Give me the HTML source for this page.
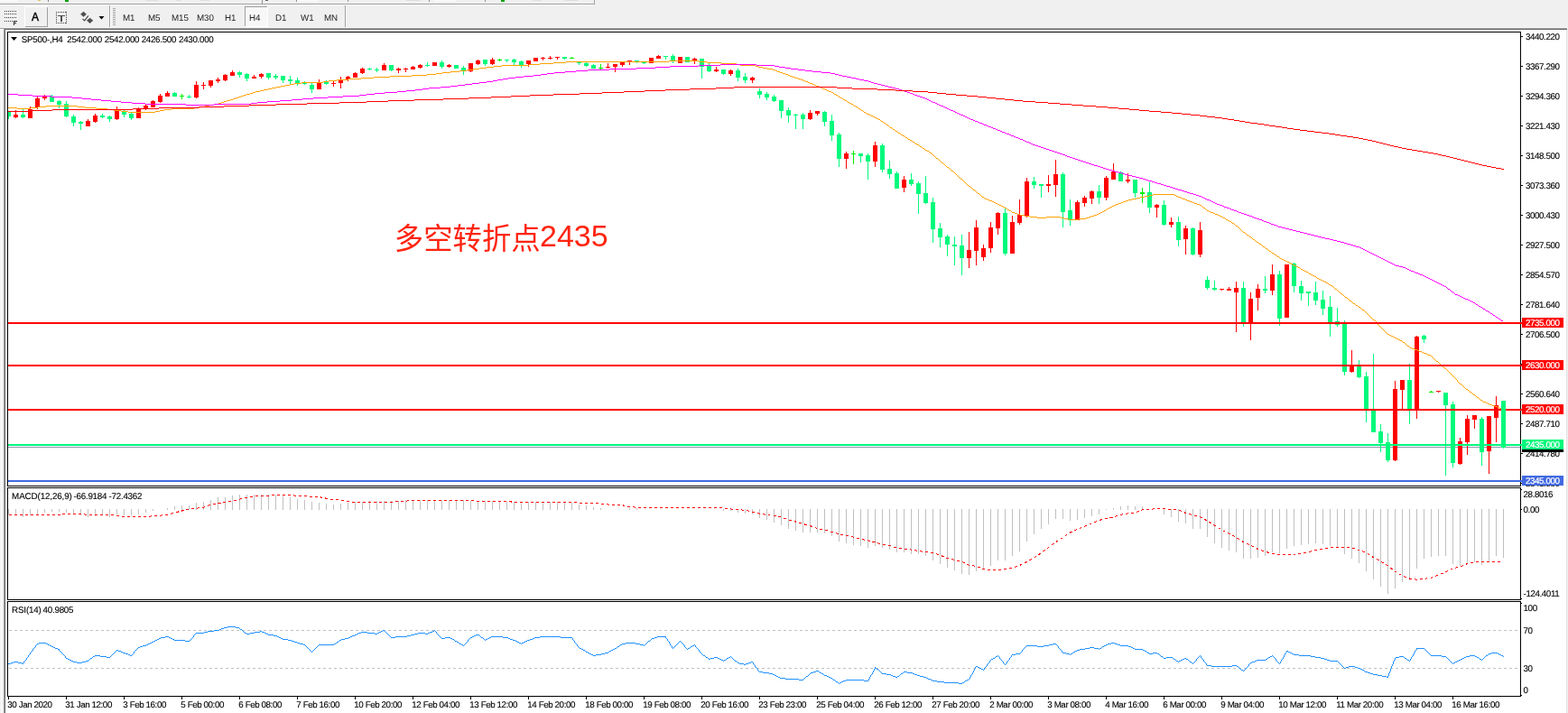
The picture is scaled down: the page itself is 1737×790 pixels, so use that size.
<!DOCTYPE html><html><head><meta charset="utf-8"><title>chart</title><style>
html,body{margin:0;padding:0}
body{width:1737px;height:790px;background:#f0f0f0;position:relative;overflow:hidden;font-family:"Liberation Sans",sans-serif;}
.a{position:absolute}
.t{position:absolute;font-size:9.8px;line-height:11px;color:#000;white-space:pre;letter-spacing:-0.42px;text-rendering:geometricPrecision;-webkit-text-stroke:0.12px #000}
.tb{position:absolute;font-size:9.8px;line-height:11px;color:#262626;white-space:pre;top:15px;text-rendering:geometricPrecision;letter-spacing:-0.1px;will-change:transform}
.pl{position:absolute;left:1686px;width:46px;height:11px;color:#fff}
.pl span{position:absolute;left:4px;top:1px;font-size:9.8px;line-height:11px;white-space:pre;letter-spacing:-0.42px;text-rendering:geometricPrecision;-webkit-text-stroke:0.2px #fff}

</style></head><body>
<div class="a" style="left:0;top:0;width:20px;height:2px;background:#fafafa"></div>
<div class="a" style="left:42px;top:0;width:3px;height:1px;background:#e8c060"></div>
<div class="a" style="left:53px;top:0;width:1px;height:2px;background:#808080"></div>
<div class="a" style="left:72px;top:0;width:4px;height:2px;background:#00a000"></div>
<div class="a" style="left:555px;top:0;width:4px;height:2px;background:#00a000"></div>
<div class="a" style="left:290px;top:0;width:1px;height:4px;background:#909090"></div><div class="a" style="left:294px;top:0;width:3px;height:1px;background:#606060"></div>
<div class="a" style="left:385px;top:0;width:1px;height:2px;background:#909090"></div><div class="a" style="left:328px;top:0;width:1px;height:2px;background:#909090"></div>
<div class="a" style="left:475px;top:0;width:1px;height:2px;background:#909090"></div>
<div class="a" style="left:537px;top:0;width:1px;height:2px;background:#909090"></div>
<div class="a" style="left:329px;top:0;width:24px;height:2px;background:#f9f9f9"></div>
<div class="a" style="left:480px;top:0;width:26px;height:2px;background:#f9f9f9"></div>
<div class="a" style="left:161px;top:0;width:14px;height:1px;background:#dedede"></div><div class="a" style="left:195px;top:0;width:6px;height:1px;background:#dedede"></div><div class="a" style="left:222px;top:0;width:10px;height:1px;background:#dedede"></div><div class="a" style="left:450px;top:0;width:16px;height:1px;background:#dedede"></div><div class="a" style="left:590px;top:0;width:10px;height:1px;background:#dedede"></div><div class="a" style="left:625px;top:0;width:15px;height:1px;background:#dedede"></div>
<div class="a" style="left:0;top:4px;width:659px;height:1px;background:#a0a0a0"></div>
<div class="a" style="left:658px;top:0;width:1px;height:5px;background:#a0a0a0"></div>
<div class="a" style="left:0;top:5px;width:658px;height:1px;background:#fff"></div>
<svg class="a" style="left:0;top:0" width="400" height="33" shape-rendering="crispEdges">
<path d="M5 12h1v1h-1zM7 12h1v1h-1zM9 12h1v1h-1zM11 12h1v1h-1zM13 12h1v1h-1zM15 12h1v1h-1zM17 12h1v1h-1zM5 15h1v1h-1zM7 15h1v1h-1zM9 15h1v1h-1zM11 15h1v1h-1zM13 15h1v1h-1zM15 15h1v1h-1zM17 15h1v1h-1zM5 19h1v1h-1zM7 19h1v1h-1zM9 19h1v1h-1zM11 19h1v1h-1zM13 19h1v1h-1zM15 19h1v1h-1zM17 19h1v1h-1zM5 23h1v1h-1zM7 23h1v1h-1zM9 23h1v1h-1zM11 23h1v1h-1zM13 23h1v1h-1z" fill="#404040"/>
<path d="M15 23h4v1h-3v1h2v1h-2v2h-1z" fill="#303030"/>
<path d="M27 7h26v1h-25v22h-1z" fill="#fff"/>
<path d="M52 8h1v22h-25v-1h24z" fill="#a0a0a0"/>
<path d="M62 13h1v1h-1zM62 25h1v1h-1zM64 13h1v1h-1zM64 25h1v1h-1zM66 13h1v1h-1zM66 25h1v1h-1zM68 13h1v1h-1zM68 25h1v1h-1zM70 13h1v1h-1zM70 25h1v1h-1zM72 13h1v1h-1zM72 25h1v1h-1zM62 13h1v1h-1zM73 13h1v1h-1zM62 15h1v1h-1zM73 15h1v1h-1zM62 17h1v1h-1zM73 17h1v1h-1zM62 19h1v1h-1zM73 19h1v1h-1zM62 21h1v1h-1zM73 21h1v1h-1zM62 23h1v1h-1zM73 23h1v1h-1zM62 25h1v1h-1zM73 25h1v1h-1z" fill="#404040"/>
<path d="M64 17h8v1h-3v6h-2v-6h-3z" fill="#505050"/>
<path d="M121 6h1v25h-1z" fill="#a0a0a0"/><path d="M122 6h1v25h-1z" fill="#fff"/>
<path d="M125 9h3v1h-3zM125 11h3v1h-3zM125 13h3v1h-3zM125 15h3v1h-3zM125 17h3v1h-3zM125 19h3v1h-3zM125 21h3v1h-3zM125 23h3v1h-3zM125 25h3v1h-3zM125 27h3v1h-3z" fill="#a8a8a8"/>
<path d="M271 7h25v1h-24v21h-1z" fill="#a0a0a0"/><path d="M296 7h1v23h-26v-1h25z" fill="#fff"/>
<path d="M382 6h1v25h-1z" fill="#a0a0a0"/><path d="M383 6h1v25h-1z" fill="#fff"/>
</svg>
<div class="a" style="left:272px;top:8px;width:24px;height:21px;background:repeating-conic-gradient(#ffffff 0 25%,#f0f0f0 0 50%) 0 0/2px 2px"></div>
<svg class="a" style="left:0;top:0" width="130" height="33">
<path d="M92.5 12.8l3.4 3-3.4 3-3.4-3z M99.6 19.8l3.6 3-3.6 3.2-3.6-3.2z" fill="#505050"/>
<path d="M91.5 21l2.2 1.8 4.2-5.4" fill="none" stroke="#505050" stroke-width="1.3"/>
<path d="M109.5 18h6l-3 3.5z" fill="#000"/>
</svg>
<div class="a" style="left:35px;top:12px;font-size:12px;line-height:14px;color:#000;-webkit-text-stroke:0.45px #000;will-change:transform">A</div>
<div class="tb" style="left:136px">M1</div>
<div class="tb" style="left:164px">M5</div>
<div class="tb" style="left:190px">M15</div>
<div class="tb" style="left:218px">M30</div>
<div class="tb" style="left:249px">H1</div>
<div class="tb" style="left:276px">H4</div>
<div class="tb" style="left:305px">D1</div>
<div class="tb" style="left:333px">W1</div>
<div class="tb" style="left:359px">MN</div>
<div class="a" style="left:0;top:30px;width:1737px;height:1px;background:#f5f5f5"></div>
<div class="a" style="left:0;top:31px;width:1736px;height:1px;background:#a0a0a0"></div>
<div class="a" style="left:4px;top:32px;width:1732px;height:1px;background:#696969"></div>
<div class="a" style="left:0;top:32px;width:4px;height:1px;background:#fff"></div>
<div class="a" style="left:1px;top:33px;width:1px;height:757px;background:#fff"></div>
<div class="a" style="left:4px;top:32px;width:1px;height:758px;background:#a0a0a0"></div>
<div class="a" style="left:5px;top:32px;width:1px;height:758px;background:#696969"></div>
<div class="a" style="left:6px;top:33px;width:1729px;height:757px;background:#fff"></div>
<div class="a" style="left:1735px;top:33px;width:1px;height:757px;background:#e3e3e3"></div>
<svg class="a" style="left:0;top:0" width="1737" height="790" shape-rendering="crispEdges">
<path d="M9 564h1v6h-1zM17 564h1v6h-1zM25 564h1v9h-1zM33 564h1v7h-1zM41 564h1v7h-1zM49 564h1v4h-1zM57 564h1v3h-1zM65 564h1v3h-1zM73 564h1v4h-1zM81 564h1v5h-1zM89 564h1v7h-1zM97 564h1v9h-1zM105 564h1v8h-1zM113 564h1v7h-1zM121 564h1v9h-1zM129 564h1v6h-1zM137 564h1v7h-1zM145 564h1v7h-1zM153 564h1v6h-1zM161 564h1v4h-1zM169 564h1v2h-1zM185 563h1v2h-1zM193 561h1v4h-1zM201 560h1v5h-1zM209 560h1v5h-1zM217 557h1v8h-1zM225 556h1v9h-1zM233 554h1v11h-1zM241 551h1v14h-1zM249 551h1v14h-1zM257 549h1v16h-1zM265 548h1v17h-1zM273 548h1v17h-1zM281 548h1v17h-1zM289 548h1v17h-1zM297 548h1v17h-1zM305 548h1v17h-1zM313 549h1v16h-1zM321 551h1v14h-1zM329 553h1v12h-1zM337 554h1v11h-1zM345 556h1v9h-1zM353 557h1v8h-1zM361 558h1v7h-1zM369 559h1v6h-1zM377 558h1v7h-1zM385 557h1v8h-1zM393 556h1v9h-1zM401 556h1v9h-1zM409 555h1v10h-1zM417 555h1v10h-1zM425 555h1v10h-1zM433 555h1v10h-1zM441 555h1v10h-1zM449 554h1v11h-1zM457 554h1v11h-1zM465 554h1v11h-1zM473 554h1v11h-1zM481 554h1v11h-1zM489 554h1v11h-1zM497 554h1v11h-1zM505 554h1v11h-1zM513 554h1v11h-1zM521 555h1v10h-1zM529 555h1v10h-1zM537 555h1v10h-1zM545 555h1v10h-1zM553 556h1v9h-1zM561 556h1v9h-1zM569 556h1v9h-1zM577 556h1v9h-1zM585 556h1v9h-1zM593 556h1v9h-1zM601 556h1v9h-1zM609 556h1v9h-1zM617 556h1v9h-1zM625 556h1v9h-1zM633 557h1v8h-1zM641 559h1v6h-1zM649 560h1v5h-1zM657 562h1v3h-1zM665 563h1v2h-1zM697 563h1v2h-1zM705 563h1v2h-1zM801 564h1v2h-1zM809 564h1v2h-1zM817 564h1v4h-1zM825 564h1v5h-1zM833 564h1v6h-1zM841 564h1v10h-1zM849 564h1v12h-1zM857 564h1v15h-1zM865 564h1v18h-1zM873 564h1v22h-1zM881 564h1v24h-1zM889 564h1v26h-1zM897 564h1v26h-1zM905 564h1v26h-1zM913 564h1v27h-1zM921 564h1v30h-1zM929 564h1v36h-1zM937 564h1v38h-1zM945 564h1v40h-1zM953 564h1v41h-1zM961 564h1v43h-1zM969 564h1v41h-1zM977 564h1v43h-1zM985 564h1v45h-1zM993 564h1v48h-1zM1001 564h1v48h-1zM1009 564h1v50h-1zM1017 564h1v50h-1zM1025 564h1v52h-1zM1033 564h1v57h-1zM1041 564h1v61h-1zM1049 564h1v65h-1zM1057 564h1v68h-1zM1065 564h1v72h-1zM1073 564h1v73h-1zM1081 564h1v69h-1zM1089 564h1v66h-1zM1097 564h1v63h-1zM1105 564h1v57h-1zM1113 564h1v57h-1zM1121 564h1v52h-1zM1129 564h1v47h-1zM1137 564h1v36h-1zM1145 564h1v28h-1zM1153 564h1v22h-1zM1161 564h1v17h-1zM1169 564h1v11h-1zM1177 564h1v11h-1zM1185 564h1v13h-1zM1193 564h1v12h-1zM1201 564h1v10h-1zM1209 564h1v8h-1zM1217 564h1v6h-1zM1225 564h1v1h-1zM1233 563h1v2h-1zM1241 561h1v4h-1zM1249 560h1v5h-1zM1257 561h1v4h-1zM1265 561h1v4h-1zM1289 564h1v6h-1zM1297 564h1v9h-1zM1305 564h1v14h-1zM1313 564h1v16h-1zM1321 564h1v22h-1zM1329 564h1v22h-1zM1337 564h1v31h-1zM1345 564h1v38h-1zM1353 564h1v43h-1zM1361 564h1v46h-1zM1369 564h1v48h-1zM1377 564h1v55h-1zM1385 564h1v55h-1zM1393 564h1v54h-1zM1401 564h1v52h-1zM1409 564h1v48h-1zM1417 564h1v49h-1zM1425 564h1v44h-1zM1433 564h1v41h-1zM1441 564h1v40h-1zM1449 564h1v39h-1zM1457 564h1v38h-1zM1465 564h1v39h-1zM1473 564h1v41h-1zM1481 564h1v42h-1zM1489 564h1v50h-1zM1497 564h1v55h-1zM1505 564h1v60h-1zM1513 564h1v69h-1zM1521 564h1v78h-1zM1529 564h1v86h-1zM1537 564h1v94h-1zM1545 564h1v88h-1zM1553 564h1v81h-1zM1561 564h1v79h-1zM1569 564h1v66h-1zM1577 564h1v55h-1zM1585 564h1v53h-1zM1593 564h1v52h-1zM1601 564h1v52h-1zM1609 564h1v61h-1zM1617 564h1v63h-1zM1625 564h1v61h-1zM1633 564h1v59h-1zM1641 564h1v62h-1zM1649 564h1v59h-1zM1657 564h1v52h-1zM1665 564h1v54h-1z" fill="#c0c0c0"/>
<path d="M9 495h1675v1h-1675z" fill="#9097ac"/>
<path d="M9 124h1v8h-1zM25 121h1v10h-1zM57 105h1v8h-1zM65 111h1v9h-1zM73 112h1v18h-1zM81 127h1v13h-1zM89 134h1v10h-1zM113 126h1v5h-1zM121 128h1v7h-1zM137 122h1v8h-1zM145 125h1v8h-1zM193 102h1v5h-1zM209 105h1v4h-1zM265 79h1v7h-1zM273 81h1v9h-1zM297 81h1v7h-1zM305 82h1v6h-1zM313 84h1v8h-1zM321 84h1v10h-1zM329 86h1v9h-1zM337 90h1v4h-1zM345 92h1v11h-1zM361 89h1v5h-1zM409 75h1v3h-1zM417 75h1v5h-1zM433 72h1v7h-1zM473 69h1v5h-1zM489 67h1v9h-1zM505 72h1v4h-1zM513 73h1v10h-1zM537 66h1v7h-1zM561 66h1v3h-1zM569 65h1v7h-1zM577 67h1v8h-1zM625 63h1v3h-1zM641 69h1v3h-1zM649 69h1v5h-1zM657 71h1v5h-1zM705 67h1v3h-1zM713 68h1v3h-1zM737 62h1v4h-1zM745 60h1v10h-1zM761 63h1v6h-1zM777 65h1v22h-1zM785 70h1v10h-1zM801 77h1v6h-1zM817 76h1v14h-1zM825 81h1v11h-1zM841 98h1v11h-1zM849 102h1v9h-1zM857 105h1v8h-1zM865 111h1v20h-1zM873 119h1v17h-1zM881 126h1v17h-1zM889 125h1v18h-1zM913 123h1v17h-1zM921 127h1v29h-1zM929 147h1v38h-1zM953 170h1v10h-1zM961 170h1v29h-1zM977 159h1v32h-1zM985 178h1v20h-1zM993 190h1v19h-1zM1009 192h1v14h-1zM1017 201h1v36h-1zM1025 195h1v31h-1zM1033 219h1v50h-1zM1041 247h1v27h-1zM1049 260h1v24h-1zM1057 262h1v32h-1zM1065 260h1v45h-1zM1113 230h1v53h-1zM1145 196h1v13h-1zM1153 204h1v15h-1zM1177 191h1v61h-1zM1185 221h1v29h-1zM1217 205h1v21h-1zM1241 190h1v11h-1zM1257 199h1v20h-1zM1273 202h1v34h-1zM1289 222h1v28h-1zM1305 240h1v33h-1zM1321 252h1v31h-1zM1337 306h1v15h-1zM1345 311h1v11h-1zM1377 312h1v50h-1zM1401 306h1v19h-1zM1417 300h1v61h-1zM1433 291h1v33h-1zM1441 311h1v22h-1zM1449 323h1v16h-1zM1457 312h1v26h-1zM1465 322h1v27h-1zM1473 328h1v45h-1zM1481 341h1v21h-1zM1489 355h1v61h-1zM1505 399h1v20h-1zM1513 412h1v56h-1zM1521 392h1v87h-1zM1529 470h1v31h-1zM1537 480h1v32h-1zM1561 403h1v67h-1zM1577 371h1v9h-1zM1601 435h1v92h-1zM1609 445h1v73h-1zM1641 462h1v54h-1zM1665 444h1v53h-1zM9 124h3v5h-3zM23 127h5v3h-5zM55 107h5v6h-5zM63 112h5v4h-5zM71 115h5v14h-5zM79 129h5v7h-5zM87 135h5v2h-5zM111 128h5v2h-5zM119 129h5v3h-5zM135 124h5v3h-5zM143 126h5v5h-5zM191 103h5v4h-5zM207 107h5v1h-5zM263 80h5v3h-5zM271 82h5v5h-5zM295 81h5v5h-5zM303 84h5v2h-5zM311 84h5v5h-5zM319 88h5v2h-5zM327 89h5v3h-5zM335 91h5v2h-5zM343 94h5v5h-5zM359 91h5v2h-5zM407 76h5v1h-5zM415 77h5v1h-5zM431 72h5v6h-5zM471 72h5v1h-5zM487 69h5v5h-5zM503 72h5v4h-5zM511 75h5v3h-5zM535 66h5v5h-5zM559 66h5v1h-5zM567 66h5v3h-5zM575 68h5v4h-5zM623 63h5v2h-5zM639 69h5v1h-5zM647 70h5v3h-5zM655 72h5v4h-5zM703 67h5v1h-5zM711 69h5v1h-5zM735 62h5v1h-5zM743 62h5v6h-5zM759 63h5v6h-5zM775 65h5v9h-5zM783 72h5v7h-5zM799 77h5v5h-5zM815 78h5v8h-5zM823 85h5v4h-5zM839 101h5v4h-5zM847 104h5v4h-5zM855 107h5v5h-5zM863 111h5v12h-5zM871 122h5v6h-5zM879 127h5v1h-5zM887 127h5v5h-5zM911 124h5v11h-5zM919 134h5v16h-5zM927 149h5v27h-5zM951 170h5v3h-5zM959 172h5v7h-5zM975 161h5v27h-5zM983 187h5v6h-5zM991 192h5v17h-5zM1007 199h5v5h-5zM1015 203h5v12h-5zM1023 214h5v11h-5zM1031 224h5v30h-5zM1039 253h5v10h-5zM1047 262h5v9h-5zM1055 271h5v2h-5zM1063 272h5v14h-5zM1111 236h5v45h-5zM1143 201h5v4h-5zM1151 204h5v2h-5zM1175 193h5v42h-5zM1183 233h5v11h-5zM1215 212h5v7h-5zM1239 191h5v10h-5zM1255 199h5v15h-5zM1271 213h5v17h-5zM1287 227h5v22h-5zM1303 246h5v20h-5zM1319 253h5v29h-5zM1335 310h5v9h-5zM1343 319h5v2h-5zM1375 319h5v38h-5zM1399 320h5v2h-5zM1415 304h5v49h-5zM1431 292h5v25h-5zM1439 317h5v8h-5zM1447 323h5v2h-5zM1455 324h5v9h-5zM1463 332h5v10h-5zM1471 340h5v17h-5zM1479 356h5v4h-5zM1487 359h5v53h-5zM1503 406h5v12h-5zM1511 417h5v37h-5zM1519 453h5v26h-5zM1527 478h5v13h-5zM1535 490h5v20h-5zM1559 421h5v33h-5zM1575 372h5v4h-5zM1599 435h5v14h-5zM1607 448h5v65h-5zM1639 464h5v37h-5zM1663 444h5v52h-5z" fill="#00f97c"/>
<path d="M17 122h1v9h-1zM33 118h1v13h-1zM41 107h1v14h-1zM49 105h1v6h-1zM97 132h1v8h-1zM105 126h1v10h-1zM129 118h1v15h-1zM153 119h1v12h-1zM161 116h1v6h-1zM169 111h1v8h-1zM177 104h1v10h-1zM185 101h1v6h-1zM217 90h1v19h-1zM225 91h1v8h-1zM233 89h1v8h-1zM241 86h1v6h-1zM249 82h1v8h-1zM257 78h1v6h-1zM281 83h1v4h-1zM289 81h1v6h-1zM353 88h1v11h-1zM369 90h1v6h-1zM377 85h1v13h-1zM385 84h1v6h-1zM393 80h1v6h-1zM401 75h1v7h-1zM425 70h1v8h-1zM441 75h1v6h-1zM449 75h1v5h-1zM457 73h1v4h-1zM465 71h1v5h-1zM481 69h1v4h-1zM497 71h1v4h-1zM521 70h1v10h-1zM529 66h1v6h-1zM545 64h1v8h-1zM585 67h1v7h-1zM593 64h1v4h-1zM601 63h1v4h-1zM609 62h1v4h-1zM617 63h1v3h-1zM673 70h1v6h-1zM681 71h1v9h-1zM689 68h1v6h-1zM697 67h1v5h-1zM721 64h1v6h-1zM729 61h1v4h-1zM753 63h1v7h-1zM769 64h1v7h-1zM793 74h1v6h-1zM809 77h1v7h-1zM833 85h1v7h-1zM897 122h1v11h-1zM905 123h1v5h-1zM937 168h1v19h-1zM969 157h1v28h-1zM1001 195h1v18h-1zM1073 257h1v40h-1zM1081 244h1v50h-1zM1089 271h1v18h-1zM1097 246h1v34h-1zM1105 235h1v25h-1zM1121 239h1v42h-1zM1129 221h1v28h-1zM1137 197h1v44h-1zM1161 194h1v19h-1zM1169 177h1v41h-1zM1193 222h1v22h-1zM1201 217h1v12h-1zM1209 211h1v15h-1zM1225 195h1v27h-1zM1233 181h1v18h-1zM1249 192h1v11h-1zM1281 226h1v15h-1zM1297 241h1v11h-1zM1313 250h1v32h-1zM1329 246h1v39h-1zM1353 320h1v2h-1zM1361 318h1v4h-1zM1369 312h1v56h-1zM1385 324h1v53h-1zM1393 315h1v29h-1zM1409 293h1v34h-1zM1425 293h1v59h-1zM1497 388h1v25h-1zM1545 422h1v89h-1zM1553 421h1v33h-1zM1569 372h1v92h-1zM1593 433h1v2h-1zM1617 485h1v30h-1zM1625 460h1v44h-1zM1633 460h1v15h-1zM1649 461h1v64h-1zM1657 439h1v51h-1zM15 127h5v3h-5zM31 121h5v10h-5zM39 109h5v10h-5zM47 107h5v2h-5zM95 134h5v6h-5zM103 128h5v7h-5zM127 122h5v10h-5zM151 120h5v11h-5zM159 117h5v4h-5zM167 112h5v7h-5zM175 106h5v7h-5zM183 103h5v4h-5zM215 94h5v14h-5zM223 94h5v1h-5zM231 89h5v6h-5zM239 88h5v2h-5zM247 83h5v6h-5zM255 80h5v4h-5zM279 85h5v2h-5zM287 82h5v3h-5zM351 92h5v7h-5zM367 92h5v1h-5zM375 88h5v4h-5zM383 85h5v3h-5zM391 81h5v5h-5zM399 76h5v5h-5zM423 72h5v6h-5zM439 76h5v2h-5zM447 76h5v1h-5zM455 74h5v3h-5zM463 72h5v3h-5zM479 69h5v4h-5zM495 72h5v2h-5zM519 70h5v9h-5zM527 67h5v4h-5zM543 66h5v5h-5zM583 67h5v4h-5zM591 64h5v4h-5zM599 64h5v1h-5zM607 64h5v1h-5zM615 63h5v1h-5zM671 74h5v1h-5zM679 71h5v3h-5zM687 69h5v3h-5zM695 67h5v1h-5zM719 64h5v6h-5zM727 62h5v3h-5zM751 63h5v7h-5zM767 65h5v3h-5zM791 77h5v2h-5zM807 78h5v4h-5zM831 86h5v3h-5zM895 125h5v7h-5zM903 123h5v3h-5zM935 170h5v6h-5zM967 161h5v18h-5zM999 199h5v9h-5zM1071 277h5v9h-5zM1079 252h5v26h-5zM1087 275h5v10h-5zM1095 252h5v23h-5zM1103 236h5v17h-5zM1119 246h5v35h-5zM1127 238h5v9h-5zM1135 201h5v39h-5zM1159 204h5v2h-5zM1167 193h5v12h-5zM1191 224h5v20h-5zM1199 219h5v6h-5zM1207 212h5v8h-5zM1223 197h5v22h-5zM1231 190h5v9h-5zM1247 199h5v2h-5zM1279 227h5v3h-5zM1295 246h5v3h-5zM1311 253h5v12h-5zM1327 255h5v27h-5zM1351 320h5v1h-5zM1359 320h5v2h-5zM1367 319h5v5h-5zM1383 331h5v26h-5zM1391 320h5v10h-5zM1407 304h5v18h-5zM1423 293h5v59h-5zM1495 405h5v7h-5zM1543 431h5v79h-5zM1551 421h5v11h-5zM1567 373h5v81h-5zM1591 433h5v1h-5zM1615 489h5v25h-5zM1623 464h5v26h-5zM1631 460h5v5h-5zM1647 461h5v39h-5zM1655 449h5v14h-5z" fill="#ff0000"/>
<path d="M201 104h1v6h-1zM199 106h5v1h-5zM553 65h1v3h-1zM551 66h5v1h-5zM633 63h1v2h-1zM631 64h5v1h-5zM665 71h1v6h-1zM663 75h5v1h-5zM945 167h1v15h-1zM943 170h5v1h-5zM1265 208h1v17h-1zM1263 213h5v2h-5zM1585 433h1v2h-1zM1583 434h5v1h-5z" fill="#00f000"/>
<path d="M9 119h10v1h-10zM19 120h15v1h-15zM34 119h8v1h-8zM42 118h9v1h-9zM51 117h35v1h-35zM86 118h8v1h-8zM94 119h13v1h-13zM107 120h12v1h-12zM119 121h7v1h-7zM126 122h8v1h-8zM134 123h8v1h-8zM142 124h30v1h-30zM172 123h5v1h-5zM177 122h5v1h-5zM182 121h8v1h-8zM190 120h25v1h-25zM215 119h6v1h-6zM221 118h6v1h-6zM227 117h5v1h-5zM232 116h5v1h-5zM237 115h5v1h-5zM242 114h3v1h-3zM245 113h3v1h-3zM248 112h3v1h-3zM251 111h4v1h-4zM255 110h3v1h-3zM258 109h3v1h-3zM261 108h3v1h-3zM264 107h3v1h-3zM267 106h3v1h-3zM270 105h3v1h-3zM273 104h4v1h-4zM277 103h3v1h-3zM280 102h3v1h-3zM283 101h5v1h-5zM288 100h4v1h-4zM292 99h5v1h-5zM297 98h4v1h-4zM301 97h5v1h-5zM306 96h5v1h-5zM311 95h5v1h-5zM316 94h5v1h-5zM321 93h5v1h-5zM326 92h8v1h-8zM334 91h24v1h-24zM358 90h6v1h-6zM364 89h9v1h-9zM373 88h13v1h-13zM386 87h14v1h-14zM400 86h14v1h-14zM414 85h18v1h-18zM432 84h24v1h-24zM456 83h17v1h-17zM473 82h10v1h-10zM483 81h7v1h-7zM490 80h9v1h-9zM499 79h10v1h-10zM509 78h8v1h-8zM517 77h7v1h-7zM524 76h7v1h-7zM531 75h8v1h-8zM539 74h8v1h-8zM547 73h9v1h-9zM556 72h30v1h-30zM586 71h12v1h-12zM598 70h15v1h-15zM613 69h14v1h-14zM627 68h114v1h-114zM741 67h33v1h-33zM774 68h9v1h-9zM783 69h16v1h-16zM799 70h17v1h-17zM816 71h4v1h-4zM820 72h17v1h-17zM837 73h3v1h-3zM840 74h5v1h-5zM845 75h5v1h-5zM850 76h6v1h-6zM856 77h3v1h-3zM859 78h2v1h-2zM861 79h3v1h-3zM864 80h3v1h-3zM867 81h3v1h-3zM870 82h3v1h-3zM873 83h2v1h-2zM875 84h3v1h-3zM878 85h3v1h-3zM881 86h3v1h-3zM884 87h3v1h-3zM887 88h3v1h-3zM890 89h2v1h-2zM892 90h3v1h-3zM895 91h2v1h-2zM897 92h3v1h-3zM900 93h2v1h-2zM902 94h2v1h-2zM904 95h3v1h-3zM907 96h2v1h-2zM909 97h2v1h-2zM911 98h3v1h-3zM914 99h2v1h-2zM916 100h2v1h-2zM918 101h3v1h-3zM921 102h2v1h-2zM923 103h1v1h-1zM924 104h2v1h-2zM926 105h2v1h-2zM928 106h1v1h-1zM929 107h2v1h-2zM931 108h2v1h-2zM933 109h1v1h-1zM934 110h2v1h-2zM936 111h2v1h-2zM938 112h1v1h-1zM939 113h2v1h-2zM941 114h2v1h-2zM943 115h2v1h-2zM945 116h1v1h-1zM946 117h2v1h-2zM948 118h2v1h-2zM950 119h1v1h-1zM951 120h2v1h-2zM953 121h1v1h-1zM954 122h2v1h-2zM956 123h1v1h-1zM957 124h2v1h-2zM959 125h1v1h-1zM960 126h3v1h-3zM963 127h2v1h-2zM965 128h2v1h-2zM967 129h2v1h-2zM969 130h2v1h-2zM971 131h2v1h-2zM973 132h2v1h-2zM975 133h1v1h-1zM976 134h2v1h-2zM978 135h1v1h-1zM979 136h2v1h-2zM981 137h1v1h-1zM982 138h2v1h-2zM984 139h1v1h-1zM985 140h1v1h-1zM986 141h2v1h-2zM988 142h1v1h-1zM989 143h2v1h-2zM991 144h1v1h-1zM992 145h2v1h-2zM994 146h1v1h-1zM995 147h2v1h-2zM997 148h1v1h-1zM998 149h2v1h-2zM1000 150h2v1h-2zM1002 151h1v1h-1zM1003 152h2v1h-2zM1005 153h1v1h-1zM1006 154h2v1h-2zM1008 155h2v1h-2zM1010 156h1v1h-1zM1011 157h2v1h-2zM1013 158h1v1h-1zM1014 159h2v1h-2zM1016 160h2v1h-2zM1018 161h1v1h-1zM1019 162h2v1h-2zM1021 163h1v1h-1zM1022 164h2v1h-2zM1024 165h1v1h-1zM1025 166h2v1h-2zM1027 167h2v1h-2zM1029 168h1v1h-1zM1030 169h2v1h-2zM1032 170h1v1h-1zM1033 171h1v1h-1zM1034 172h1v1h-1zM1035 173h1v1h-1zM1036 174h1v1h-1zM1037 175h2v1h-2zM1039 176h1v1h-1zM1040 177h1v1h-1zM1041 178h1v1h-1zM1042 179h1v1h-1zM1043 180h2v1h-2zM1045 181h1v1h-1zM1046 182h1v1h-1zM1047 183h1v1h-1zM1048 184h1v1h-1zM1049 185h2v1h-2zM1051 186h1v1h-1zM1052 187h1v1h-1zM1053 188h1v1h-1zM1054 189h2v1h-2zM1056 190h1v1h-1zM1057 191h1v1h-1zM1058 192h1v1h-1zM1059 193h1v1h-1zM1060 194h1v1h-1zM1061 195h1v1h-1zM1062 196h1v1h-1zM1063 197h1v1h-1zM1064 198h2v1h-2zM1066 199h1v1h-1zM1067 200h1v1h-1zM1068 201h1v1h-1zM1069 202h1v1h-1zM1070 203h1v1h-1zM1071 204h1v1h-1zM1072 205h1v1h-1zM1073 206h2v1h-2zM1075 207h1v1h-1zM1076 208h1v1h-1zM1077 209h1v1h-1zM1078 210h2v1h-2zM1080 211h1v1h-1zM1081 212h1v1h-1zM1082 213h1v1h-1zM1083 214h2v1h-2zM1085 215h1v1h-1zM1086 216h1v1h-1zM1087 217h1v1h-1zM1088 218h2v1h-2zM1090 219h1v1h-1zM1091 220h3v1h-3zM1094 221h2v1h-2zM1096 222h3v1h-3zM1099 223h2v1h-2zM1101 224h2v1h-2zM1103 225h2v1h-2zM1105 226h2v1h-2zM1107 227h2v1h-2zM1109 228h2v1h-2zM1111 229h2v1h-2zM1113 230h2v1h-2zM1115 231h1v1h-1zM1116 232h2v1h-2zM1118 233h2v1h-2zM1120 234h1v1h-1zM1121 235h3v1h-3zM1124 236h3v1h-3zM1127 237h3v1h-3zM1130 238h5v1h-5zM1135 239h6v1h-6zM1141 240h8v1h-8zM1149 241h10v1h-10zM1159 240h16v1h-16zM1175 241h4v1h-4zM1179 242h5v1h-5zM1184 243h11v1h-11zM1195 242h8v1h-8zM1203 241h3v1h-3zM1206 240h3v1h-3zM1209 239h3v1h-3zM1212 238h3v1h-3zM1215 237h2v1h-2zM1217 236h2v1h-2zM1219 235h2v1h-2zM1221 234h2v1h-2zM1223 233h2v1h-2zM1225 232h1v1h-1zM1226 231h2v1h-2zM1228 230h2v1h-2zM1230 229h2v1h-2zM1232 228h2v1h-2zM1234 227h2v1h-2zM1236 226h3v1h-3zM1239 225h3v1h-3zM1242 224h2v1h-2zM1244 223h3v1h-3zM1247 222h3v1h-3zM1250 221h4v1h-4zM1254 220h5v1h-5zM1259 219h4v1h-4zM1263 218h5v1h-5zM1268 217h5v1h-5zM1273 216h4v1h-4zM1277 215h24v1h-24zM1301 216h2v1h-2zM1303 217h2v1h-2zM1305 218h3v1h-3zM1308 219h2v1h-2zM1310 220h3v1h-3zM1313 221h2v1h-2zM1315 222h3v1h-3zM1318 223h3v1h-3zM1321 224h2v1h-2zM1323 225h3v1h-3zM1326 226h3v1h-3zM1329 227h2v1h-2zM1331 228h1v1h-1zM1332 229h1v1h-1zM1333 230h2v1h-2zM1335 231h1v1h-1zM1336 232h1v1h-1zM1337 233h2v1h-2zM1339 234h2v1h-2zM1341 235h3v1h-3zM1344 236h2v1h-2zM1346 237h3v1h-3zM1349 238h2v1h-2zM1351 239h2v1h-2zM1353 240h2v1h-2zM1355 241h2v1h-2zM1357 242h1v1h-1zM1358 243h2v1h-2zM1360 244h2v1h-2zM1362 245h2v1h-2zM1364 246h1v1h-1zM1365 247h2v1h-2zM1367 248h1v1h-1zM1368 249h1v1h-1zM1369 250h2v1h-2zM1371 251h1v1h-1zM1372 252h1v1h-1zM1373 253h1v1h-1zM1374 254h1v1h-1zM1375 255h1v1h-1zM1376 256h1v1h-1zM1377 257h2v1h-2zM1379 258h1v1h-1zM1380 259h1v1h-1zM1381 260h2v1h-2zM1383 261h1v1h-1zM1384 262h2v1h-2zM1386 263h1v1h-1zM1387 264h1v1h-1zM1388 265h2v1h-2zM1390 266h1v1h-1zM1391 267h1v1h-1zM1392 268h2v1h-2zM1394 269h1v1h-1zM1395 270h2v1h-2zM1397 271h1v1h-1zM1398 272h1v1h-1zM1399 273h2v1h-2zM1401 274h1v1h-1zM1402 275h2v1h-2zM1404 276h1v1h-1zM1405 277h1v1h-1zM1406 278h2v1h-2zM1408 279h1v1h-1zM1409 280h2v1h-2zM1411 281h1v1h-1zM1412 282h2v1h-2zM1414 283h1v1h-1zM1415 284h2v1h-2zM1417 285h1v1h-1zM1418 286h2v1h-2zM1420 287h2v1h-2zM1422 288h2v1h-2zM1424 289h2v1h-2zM1426 290h2v1h-2zM1428 291h2v1h-2zM1430 292h2v1h-2zM1432 293h2v1h-2zM1434 294h2v1h-2zM1436 295h2v1h-2zM1438 296h2v1h-2zM1440 297h1v1h-1zM1441 298h2v1h-2zM1443 299h2v1h-2zM1445 300h2v1h-2zM1447 301h2v1h-2zM1449 302h1v1h-1zM1450 303h2v1h-2zM1452 304h2v1h-2zM1454 305h2v1h-2zM1456 306h2v1h-2zM1458 307h1v1h-1zM1459 308h2v1h-2zM1461 309h2v1h-2zM1463 310h2v1h-2zM1465 311h2v1h-2zM1467 312h2v1h-2zM1469 313h2v1h-2zM1471 314h1v1h-1zM1472 315h2v1h-2zM1474 316h2v1h-2zM1476 317h1v1h-1zM1477 318h1v1h-1zM1478 319h1v1h-1zM1479 320h2v1h-2zM1481 321h1v1h-1zM1482 322h1v1h-1zM1483 323h1v1h-1zM1484 324h1v1h-1zM1485 325h2v1h-2zM1487 326h1v1h-1zM1488 327h1v1h-1zM1489 328h1v1h-1zM1490 329h2v1h-2zM1492 330h1v1h-1zM1493 331h1v1h-1zM1494 332h1v1h-1zM1495 333h2v1h-2zM1497 334h1v1h-1zM1498 335h1v1h-1zM1499 336h2v1h-2zM1501 337h1v1h-1zM1502 338h2v1h-2zM1504 339h1v1h-1zM1505 340h2v1h-2zM1507 341h1v1h-1zM1508 342h1v1h-1zM1509 343h2v1h-2zM1511 344h1v1h-1zM1512 345h1v1h-1zM1513 346h1v1h-1zM1514 347h1v1h-1zM1515 348h1v1h-1zM1516 349h1v1h-1zM1517 350h1v1h-1zM1518 351h1v1h-1zM1519 352h1v1h-1zM1520 353h1v1h-1zM1521 354h2v1h-2zM1523 355h1v1h-1zM1524 356h1v1h-1zM1525 357h1v1h-1zM1526 358h1v2h-1zM1527 360h1v1h-1zM1528 361h1v1h-1zM1529 362h1v1h-1zM1530 363h1v1h-1zM1531 364h1v1h-1zM1532 365h1v1h-1zM1533 366h1v1h-1zM1534 367h1v1h-1zM1535 368h1v1h-1zM1536 369h1v1h-1zM1537 370h2v1h-2zM1539 371h2v1h-2zM1541 372h2v1h-2zM1543 373h2v1h-2zM1545 374h2v1h-2zM1547 375h2v1h-2zM1549 376h2v1h-2zM1551 377h2v1h-2zM1553 378h1v1h-1zM1554 379h2v1h-2zM1556 380h1v1h-1zM1557 381h1v1h-1zM1558 382h1v1h-1zM1559 383h2v1h-2zM1561 384h1v1h-1zM1562 385h2v1h-2zM1564 386h3v1h-3zM1567 387h3v1h-3zM1570 388h2v1h-2zM1572 389h3v1h-3zM1575 390h2v1h-2zM1577 391h3v1h-3zM1580 392h2v1h-2zM1582 393h3v1h-3zM1585 394h1v1h-1zM1586 395h1v1h-1zM1587 396h1v1h-1zM1588 397h1v1h-1zM1589 398h1v1h-1zM1590 399h1v1h-1zM1591 400h2v1h-2zM1593 401h1v1h-1zM1594 402h1v1h-1zM1595 403h1v1h-1zM1596 404h1v1h-1zM1597 405h1v1h-1zM1598 406h1v1h-1zM1599 407h2v1h-2zM1601 408h1v1h-1zM1602 409h1v1h-1zM1603 410h1v1h-1zM1604 411h1v1h-1zM1605 412h1v1h-1zM1606 413h1v1h-1zM1607 414h1v1h-1zM1608 415h1v1h-1zM1609 416h1v1h-1zM1610 417h1v1h-1zM1611 418h1v1h-1zM1612 419h1v1h-1zM1613 420h1v1h-1zM1614 421h1v2h-1zM1615 423h1v1h-1zM1616 424h1v1h-1zM1617 425h2v1h-2zM1619 426h1v1h-1zM1620 427h1v1h-1zM1621 428h1v1h-1zM1622 429h1v1h-1zM1623 430h1v1h-1zM1624 431h2v1h-2zM1626 432h1v1h-1zM1627 433h1v1h-1zM1628 434h2v1h-2zM1630 435h1v1h-1zM1631 436h1v1h-1zM1632 437h2v1h-2zM1634 438h1v1h-1zM1635 439h1v1h-1zM1636 440h2v1h-2zM1638 441h1v1h-1zM1639 442h1v1h-1zM1640 443h2v1h-2zM1642 444h1v1h-1zM1643 445h3v1h-3zM1646 446h2v1h-2zM1648 447h2v1h-2zM1650 448h3v1h-3zM1653 449h3v1h-3zM1656 450h3v1h-3zM1659 451h2v1h-2zM1661 452h2v1h-2zM1663 453h3v1h-3z" fill="#ffa200"/>
<path d="M9 104h11v1h-11zM20 105h16v1h-16zM36 106h21v1h-21zM57 107h23v1h-23zM80 108h11v1h-11zM91 109h10v1h-10zM101 110h11v1h-11zM112 111h11v1h-11zM123 112h11v1h-11zM134 113h12v1h-12zM146 114h15v1h-15zM161 115h45v1h-45zM206 116h31v1h-31zM237 115h41v1h-41zM278 114h7v1h-7zM285 113h11v1h-11zM296 112h14v1h-14zM310 111h13v1h-13zM323 110h12v1h-12zM335 109h12v1h-12zM347 108h16v1h-16zM363 107h17v1h-17zM380 106h18v1h-18zM398 105h8v1h-8zM406 104h9v1h-9zM415 103h11v1h-11zM426 102h14v1h-14zM440 101h10v1h-10zM450 100h10v1h-10zM460 99h8v1h-8zM468 98h7v1h-7zM475 97h13v1h-13zM488 96h11v1h-11zM499 95h8v1h-8zM507 94h8v1h-8zM515 93h8v1h-8zM523 92h8v1h-8zM531 91h8v1h-8zM539 90h7v1h-7zM546 89h5v1h-5zM551 88h6v1h-6zM557 87h6v1h-6zM563 86h8v1h-8zM571 85h9v1h-9zM580 84h11v1h-11zM591 83h8v1h-8zM599 82h7v1h-7zM606 81h8v1h-8zM614 80h12v1h-12zM626 79h12v1h-12zM638 78h13v1h-13zM651 77h24v1h-24zM675 76h30v1h-30zM705 75h21v1h-21zM726 74h16v1h-16zM742 73h32v1h-32zM774 72h24v1h-24zM798 71h40v1h-40zM838 72h20v1h-20zM858 73h5v1h-5zM863 74h7v1h-7zM870 75h6v1h-6zM876 76h8v1h-8zM884 77h8v1h-8zM892 78h8v1h-8zM900 79h10v1h-10zM910 80h10v1h-10zM920 81h5v1h-5zM925 82h4v1h-4zM929 83h4v1h-4zM933 84h5v1h-5zM938 85h5v1h-5zM943 86h5v1h-5zM948 87h4v1h-4zM952 88h5v1h-5zM957 89h5v1h-5zM962 90h3v1h-3zM965 91h3v1h-3zM968 92h4v1h-4zM972 93h4v1h-4zM976 94h4v1h-4zM980 95h4v1h-4zM984 96h4v1h-4zM988 97h4v1h-4zM992 98h4v1h-4zM996 99h3v1h-3zM999 100h3v1h-3zM1002 101h3v1h-3zM1005 102h3v1h-3zM1008 103h3v1h-3zM1011 104h2v1h-2zM1013 105h3v1h-3zM1016 106h3v1h-3zM1019 107h3v1h-3zM1022 108h3v1h-3zM1025 109h2v1h-2zM1027 110h2v1h-2zM1029 111h2v1h-2zM1031 112h2v1h-2zM1033 113h3v1h-3zM1036 114h2v1h-2zM1038 115h2v1h-2zM1040 116h2v1h-2zM1042 117h3v1h-3zM1045 118h2v1h-2zM1047 119h2v1h-2zM1049 120h2v1h-2zM1051 121h2v1h-2zM1053 122h3v1h-3zM1056 123h2v1h-2zM1058 124h2v1h-2zM1060 125h2v1h-2zM1062 126h2v1h-2zM1064 127h3v1h-3zM1067 128h2v1h-2zM1069 129h2v1h-2zM1071 130h2v1h-2zM1073 131h2v1h-2zM1075 132h3v1h-3zM1078 133h2v1h-2zM1080 134h3v1h-3zM1083 135h2v1h-2zM1085 136h3v1h-3zM1088 137h2v1h-2zM1090 138h3v1h-3zM1093 139h2v1h-2zM1095 140h3v1h-3zM1098 141h2v1h-2zM1100 142h3v1h-3zM1103 143h2v1h-2zM1105 144h3v1h-3zM1108 145h2v1h-2zM1110 146h3v1h-3zM1113 147h2v1h-2zM1115 148h3v1h-3zM1118 149h2v1h-2zM1120 150h3v1h-3zM1123 151h2v1h-2zM1125 152h3v1h-3zM1128 153h2v1h-2zM1130 154h3v1h-3zM1133 155h2v1h-2zM1135 156h2v1h-2zM1137 157h3v1h-3zM1140 158h2v1h-2zM1142 159h2v1h-2zM1144 160h3v1h-3zM1147 161h3v1h-3zM1150 162h3v1h-3zM1153 163h3v1h-3zM1156 164h3v1h-3zM1159 165h3v1h-3zM1162 166h3v1h-3zM1165 167h3v1h-3zM1168 168h3v1h-3zM1171 169h3v1h-3zM1174 170h3v1h-3zM1177 171h3v1h-3zM1180 172h2v1h-2zM1182 173h3v1h-3zM1185 174h3v1h-3zM1188 175h3v1h-3zM1191 176h3v1h-3zM1194 177h3v1h-3zM1197 178h3v1h-3zM1200 179h3v1h-3zM1203 180h3v1h-3zM1206 181h3v1h-3zM1209 182h3v1h-3zM1212 183h4v1h-4zM1216 184h3v1h-3zM1219 185h3v1h-3zM1222 186h3v1h-3zM1225 187h3v1h-3zM1228 188h4v1h-4zM1232 189h3v1h-3zM1235 190h4v1h-4zM1239 191h4v1h-4zM1243 192h3v1h-3zM1246 193h4v1h-4zM1250 194h4v1h-4zM1254 195h4v1h-4zM1258 196h4v1h-4zM1262 197h4v1h-4zM1266 198h3v1h-3zM1269 199h3v1h-3zM1272 200h4v1h-4zM1276 201h3v1h-3zM1279 202h3v1h-3zM1282 203h4v1h-4zM1286 204h3v1h-3zM1289 205h3v1h-3zM1292 206h4v1h-4zM1296 207h3v1h-3zM1299 208h3v1h-3zM1302 209h3v1h-3zM1305 210h4v1h-4zM1309 211h3v1h-3zM1312 212h3v1h-3zM1315 213h3v1h-3zM1318 214h4v1h-4zM1322 215h3v1h-3zM1325 216h3v1h-3zM1328 217h3v1h-3zM1331 218h2v1h-2zM1333 219h2v1h-2zM1335 220h2v1h-2zM1337 221h3v1h-3zM1340 222h2v1h-2zM1342 223h2v1h-2zM1344 224h2v1h-2zM1346 225h2v1h-2zM1348 226h3v1h-3zM1351 227h3v1h-3zM1354 228h2v1h-2zM1356 229h3v1h-3zM1359 230h3v1h-3zM1362 231h2v1h-2zM1364 232h3v1h-3zM1367 233h3v1h-3zM1370 234h2v1h-2zM1372 235h3v1h-3zM1375 236h3v1h-3zM1378 237h3v1h-3zM1381 238h3v1h-3zM1384 239h3v1h-3zM1387 240h2v1h-2zM1389 241h3v1h-3zM1392 242h3v1h-3zM1395 243h3v1h-3zM1398 244h2v1h-2zM1400 245h3v1h-3zM1403 246h3v1h-3zM1406 247h2v1h-2zM1408 248h3v1h-3zM1411 249h3v1h-3zM1414 250h2v1h-2zM1416 251h4v1h-4zM1420 252h4v1h-4zM1424 253h4v1h-4zM1428 254h4v1h-4zM1432 255h4v1h-4zM1436 256h4v1h-4zM1440 257h4v1h-4zM1444 258h4v1h-4zM1448 259h4v1h-4zM1452 260h4v1h-4zM1456 261h4v1h-4zM1460 262h4v1h-4zM1464 263h4v1h-4zM1468 264h5v1h-5zM1473 265h4v1h-4zM1477 266h4v1h-4zM1481 267h4v1h-4zM1485 268h4v1h-4zM1489 269h3v1h-3zM1492 270h4v1h-4zM1496 271h3v1h-3zM1499 272h3v1h-3zM1502 273h4v1h-4zM1506 274h2v1h-2zM1508 275h2v1h-2zM1510 276h2v1h-2zM1512 277h2v1h-2zM1514 278h2v1h-2zM1516 279h2v1h-2zM1518 280h2v1h-2zM1520 281h2v1h-2zM1522 282h2v1h-2zM1524 283h2v1h-2zM1526 284h2v1h-2zM1528 285h2v1h-2zM1530 286h2v1h-2zM1532 287h2v1h-2zM1534 288h2v1h-2zM1536 289h2v1h-2zM1538 290h2v1h-2zM1540 291h2v1h-2zM1542 292h2v1h-2zM1544 293h2v1h-2zM1546 294h4v1h-4zM1550 295h4v1h-4zM1554 296h3v1h-3zM1557 297h2v1h-2zM1559 298h2v1h-2zM1561 299h2v1h-2zM1563 300h3v1h-3zM1566 301h2v1h-2zM1568 302h3v1h-3zM1571 303h2v1h-2zM1573 304h3v1h-3zM1576 305h2v1h-2zM1578 306h2v1h-2zM1580 307h2v1h-2zM1582 308h2v1h-2zM1584 309h2v1h-2zM1586 310h2v1h-2zM1588 311h2v1h-2zM1590 312h2v1h-2zM1592 313h2v1h-2zM1594 314h2v1h-2zM1596 315h2v1h-2zM1598 316h2v1h-2zM1600 317h2v1h-2zM1602 318h1v1h-1zM1603 319h1v1h-1zM1604 320h2v1h-2zM1606 321h1v1h-1zM1607 322h1v1h-1zM1608 323h2v1h-2zM1610 324h1v1h-1zM1611 325h1v1h-1zM1612 326h3v1h-3zM1615 327h2v1h-2zM1617 328h2v1h-2zM1619 329h2v1h-2zM1621 330h2v1h-2zM1623 331h3v1h-3zM1626 332h2v1h-2zM1628 333h2v1h-2zM1630 334h2v1h-2zM1632 335h2v1h-2zM1634 336h1v1h-1zM1635 337h2v1h-2zM1637 338h1v1h-1zM1638 339h2v1h-2zM1640 340h2v1h-2zM1642 341h1v1h-1zM1643 342h2v1h-2zM1645 343h1v1h-1zM1646 344h2v1h-2zM1648 345h2v1h-2zM1650 346h1v1h-1zM1651 347h2v1h-2zM1653 348h1v1h-1zM1654 349h2v1h-2zM1656 350h1v1h-1zM1657 351h2v1h-2zM1659 352h1v1h-1zM1660 353h2v1h-2zM1662 354h1v1h-1zM1663 355h2v1h-2z" fill="#ff00ff"/>
<path d="M9 123h27v1h-27zM36 122h22v1h-22zM58 121h89v1h-89zM147 120h29v1h-29zM176 119h44v1h-44zM220 118h28v1h-28zM248 117h28v1h-28zM276 116h30v1h-30zM306 115h34v1h-34zM340 114h36v1h-36zM376 113h30v1h-30zM406 112h24v1h-24zM430 111h29v1h-29zM459 110h32v1h-32zM491 109h28v1h-28zM519 108h25v1h-25zM544 107h22v1h-22zM566 106h21v1h-21zM587 105h26v1h-26zM613 104h29v1h-29zM642 103h25v1h-25zM667 102h24v1h-24zM691 101h23v1h-23zM714 100h23v1h-23zM737 99h27v1h-27zM764 98h29v1h-29zM793 97h20v1h-20zM813 96h114v1h-114zM927 97h17v1h-17zM944 98h28v1h-28zM972 99h20v1h-20zM992 100h19v1h-19zM1011 101h17v1h-17zM1028 102h10v1h-10zM1038 103h10v1h-10zM1048 104h11v1h-11zM1059 105h12v1h-12zM1071 106h12v1h-12zM1083 107h10v1h-10zM1093 108h10v1h-10zM1103 109h10v1h-10zM1113 110h10v1h-10zM1123 111h10v1h-10zM1133 112h14v1h-14zM1147 113h14v1h-14zM1161 114h13v1h-13zM1174 115h13v1h-13zM1187 116h13v1h-13zM1200 117h14v1h-14zM1214 118h13v1h-13zM1227 119h12v1h-12zM1239 120h12v1h-12zM1251 121h11v1h-11zM1262 122h11v1h-11zM1273 123h13v1h-13zM1286 124h12v1h-12zM1298 125h11v1h-11zM1309 126h10v1h-10zM1319 127h10v1h-10zM1329 128h8v1h-8zM1337 129h9v1h-9zM1346 130h8v1h-8zM1354 131h6v1h-6zM1360 132h7v1h-7zM1367 133h6v1h-6zM1373 134h6v1h-6zM1379 135h6v1h-6zM1385 136h8v1h-8zM1393 137h7v1h-7zM1400 138h6v1h-6zM1406 139h7v1h-7zM1413 140h7v1h-7zM1420 141h6v1h-6zM1426 142h7v1h-7zM1433 143h7v1h-7zM1440 144h8v1h-8zM1448 145h8v1h-8zM1456 146h8v1h-8zM1464 147h8v1h-8zM1472 148h7v1h-7zM1479 149h6v1h-6zM1485 150h7v1h-7zM1492 151h7v1h-7zM1499 152h6v1h-6zM1505 153h5v1h-5zM1510 154h5v1h-5zM1515 155h5v1h-5zM1520 156h4v1h-4zM1524 157h4v1h-4zM1528 158h4v1h-4zM1532 159h4v1h-4zM1536 160h4v1h-4zM1540 161h4v1h-4zM1544 162h5v1h-5zM1549 163h4v1h-4zM1553 164h5v1h-5zM1558 165h6v1h-6zM1564 166h6v1h-6zM1570 167h6v1h-6zM1576 168h6v1h-6zM1582 169h6v1h-6zM1588 170h5v1h-5zM1593 171h4v1h-4zM1597 172h5v1h-5zM1602 173h4v1h-4zM1606 174h4v1h-4zM1610 175h4v1h-4zM1614 176h4v1h-4zM1618 177h4v1h-4zM1622 178h4v1h-4zM1626 179h4v1h-4zM1630 180h4v1h-4zM1634 181h4v1h-4zM1638 182h4v1h-4zM1642 183h5v1h-5zM1647 184h5v1h-5zM1652 185h5v1h-5zM1657 186h6v1h-6zM1663 187h3v1h-3z" fill="#ff0000"/>
<path d="M9 357h1677v2h-1677zM9 404h1677v2h-1677zM9 453h1677v2h-1677z" fill="#ff0000"/>
<path d="M9 492h1677v2h-1677z" fill="#00f97c"/>
<path d="M9 532h1677v2h-1677z" fill="#4169e1"/>
<path d="M1663 444h5v52h-5z" fill="#00f97c"/>
<polyline points="9.5,570.5 17.5,570.5 25.5,570.5 33.5,570.5 41.5,570.5 49.5,570.5 57.5,570.5 65.5,570.5 73.5,569.5 81.5,569.3 89.5,569.5 97.5,570.5 105.5,570.5 113.5,570.5 121.5,570.5 129.5,571.5 137.5,572.4 145.5,572.4 153.5,572.4 161.5,572.4 169.5,571.8 177.5,571.2 185.5,570.2 193.5,568.0 201.5,566.0 209.5,564.1 217.5,563.2 225.5,562.3 233.5,559.0 241.5,557.8 249.5,556.5 257.5,555.2 265.5,553.2 273.5,551.4 281.5,550.1 289.5,549.4 297.5,549.4 305.5,548.4 313.5,548.4 321.5,548.4 329.5,549.4 337.5,549.4 345.5,550.6 353.5,550.6 361.5,552.2 369.5,553.9 377.5,553.9 385.5,555.2 393.5,556.5 401.5,556.5 409.5,556.5 417.5,556.5 425.5,556.5 433.5,556.5 441.5,555.2 449.5,555.2 457.5,554.4 465.5,554.4 473.5,554.4 481.5,554.4 489.5,554.4 497.5,554.4 505.5,554.4 513.5,554.4 521.5,554.4 529.5,555.2 537.5,555.2 545.5,555.2 553.5,555.2 561.5,555.2 569.5,556.5 577.5,556.5 585.5,556.5 593.5,556.5 601.5,556.5 609.5,556.5 617.5,556.5 625.5,556.5 633.5,556.5 641.5,557.2 649.5,557.2 657.5,557.2 665.5,558.0 673.5,559.0 681.5,559.8 689.5,559.8 697.5,561.5 705.5,562.3 713.5,562.3 721.5,562.3 729.5,562.3 737.5,562.3 745.5,562.3 753.5,562.3 761.5,562.3 769.5,562.3 777.5,562.3 785.5,562.3 793.5,562.3 801.5,563.0 809.5,564.0 817.5,564.6 825.5,565.3 833.5,567.1 841.5,569.1 849.5,570.4 857.5,571.7 865.5,572.9 873.5,576.0 881.5,578.0 889.5,580.5 897.5,582.6 905.5,585.6 913.5,586.9 921.5,589.4 929.5,591.9 937.5,593.2 945.5,595.2 953.5,597.5 961.5,598.8 969.5,600.8 977.5,603.3 985.5,604.6 993.5,607.1 1001.5,607.9 1009.5,609.1 1017.5,610.4 1025.5,611.7 1033.5,612.7 1041.5,615.2 1049.5,618.5 1057.5,620.3 1065.5,622.5 1073.5,626.1 1081.5,627.5 1089.5,630.4 1097.5,631.4 1105.5,631.4 1113.5,630.4 1121.5,629.4 1129.5,626.5 1137.5,622.5 1145.5,618.3 1153.5,612.5 1161.5,606.5 1169.5,600.7 1177.5,595.5 1185.5,590.0 1193.5,586.4 1201.5,583.1 1209.5,579.7 1217.5,576.6 1225.5,574.3 1233.5,572.9 1241.5,570.3 1249.5,569.0 1257.5,568.0 1265.5,564.9 1273.5,564.5 1281.5,563.5 1289.5,563.5 1297.5,564.5 1305.5,564.9 1313.5,568.4 1321.5,570.9 1329.5,572.7 1337.5,577.2 1345.5,582.1 1353.5,587.0 1361.5,591.3 1369.5,595.4 1377.5,600.7 1385.5,604.0 1393.5,608.5 1401.5,611.2 1409.5,613.4 1417.5,614.6 1425.5,614.6 1433.5,614.3 1441.5,613.0 1449.5,611.7 1457.5,609.4 1465.5,607.9 1473.5,606.5 1481.5,606.5 1489.5,606.5 1497.5,607.0 1505.5,609.6 1513.5,612.2 1521.5,617.7 1529.5,622.0 1537.5,626.9 1545.5,633.3 1553.5,637.9 1561.5,641.0 1569.5,642.2 1577.5,641.4 1585.5,640.2 1593.5,637.2 1601.5,633.8 1609.5,629.8 1617.5,628.1 1625.5,624.6 1633.5,622.6 1641.5,622.6 1649.5,622.6 1657.5,622.6 1662.5,622.6" fill="none" stroke="#ff0000" stroke-width="1" stroke-dasharray="3 3"/>
<path d="M10 698.5H1684M10 740.5H1684" stroke="#c0c0c0" stroke-width="1" stroke-dasharray="3 3" fill="none"/>
<path d="M9 735h3v1h-3zM12 734h3v1h-3zM15 733h5v1h-5zM20 734h4v1h-4zM24 735h2v1h-2zM26 733h1v2h-1zM27 732h1v1h-1zM28 731h1v1h-1zM29 729h1v2h-1zM30 728h1v1h-1zM31 726h1v2h-1zM32 725h1v1h-1zM33 723h1v2h-1zM34 722h1v1h-1zM35 721h1v1h-1zM36 719h1v2h-1zM37 718h1v1h-1zM38 717h1v1h-1zM39 715h1v2h-1zM40 714h1v1h-1zM41 713h2v1h-2zM43 712h8v1h-8zM51 713h2v1h-2zM53 714h2v1h-2zM55 715h2v1h-2zM57 716h2v1h-2zM59 717h2v1h-2zM61 718h3v1h-3zM64 719h1v1h-1zM65 719h1v2h-1zM66 721h1v1h-1zM67 722h1v1h-1zM68 723h1v1h-1zM69 724h1v1h-1zM70 725h1v1h-1zM71 726h1v1h-1zM72 727h1v2h-1zM73 729h2v1h-2zM75 730h2v1h-2zM77 731h2v1h-2zM79 732h2v1h-2zM81 733h4v1h-4zM85 734h6v1h-6zM91 733h4v1h-4zM95 732h3v1h-3zM98 731h1v1h-1zM99 730h1v1h-1zM100 729h2v1h-2zM102 728h1v1h-1zM103 727h2v1h-2zM105 726h6v1h-6zM111 727h7v1h-7zM118 728h4v1h-4zM122 727h1v1h-1zM123 726h1v1h-1zM124 725h1v1h-1zM125 724h1v1h-1zM126 723h1v1h-1zM127 722h1v1h-1zM128 721h1v1h-1zM129 720h2v1h-2zM131 721h3v1h-3zM134 722h2v1h-2zM136 723h3v1h-3zM139 724h3v1h-3zM142 725h2v1h-2zM144 726h2v1h-2zM146 725h1v1h-1zM147 724h1v1h-1zM148 722h1v2h-1zM149 721h1v1h-1zM150 720h1v1h-1zM151 719h1v1h-1zM152 718h1v1h-1zM153 717h2v1h-2zM155 716h3v1h-3zM158 715h4v1h-4zM162 714h2v1h-2zM164 713h2v1h-2zM166 712h2v1h-2zM168 711h2v1h-2zM170 710h2v1h-2zM172 709h2v1h-2zM174 708h2v1h-2zM176 707h2v1h-2zM178 706h5v1h-5zM183 705h4v1h-4zM187 706h2v1h-2zM189 707h2v1h-2zM191 708h2v1h-2zM193 709h12v1h-12zM205 710h5v1h-5zM210 709h1v1h-1zM211 708h1v1h-1zM212 707h1v1h-1zM213 706h1v1h-1zM214 704h1v2h-1zM215 703h1v1h-1zM216 702h1v1h-1zM217 701h9v1h-9zM226 700h4v1h-4zM230 699h7v1h-7zM237 698h6v1h-6zM243 697h2v1h-2zM245 696h3v1h-3zM248 695h4v1h-4zM252 694h9v1h-9zM261 695h4v1h-4zM265 696h1v1h-1zM266 697h2v1h-2zM268 698h1v1h-1zM269 699h1v1h-1zM270 700h1v1h-1zM271 701h2v1h-2zM273 702h4v1h-4zM277 701h5v1h-5zM282 700h6v1h-6zM288 699h2v1h-2zM290 700h3v1h-3zM293 701h2v1h-2zM295 702h2v1h-2zM297 703h6v1h-6zM303 704h4v1h-4zM307 705h2v1h-2zM309 706h2v1h-2zM311 707h2v1h-2zM313 708h6v1h-6zM319 709h4v1h-4zM323 710h3v1h-3zM326 711h3v1h-3zM329 712h3v1h-3zM332 713h4v1h-4zM336 714h2v1h-2zM338 715h1v1h-1zM339 716h1v1h-1zM340 717h1v1h-1zM341 718h1v1h-1zM342 719h1v1h-1zM343 720h1v1h-1zM344 721h1v1h-1zM345 722h1v1h-1zM346 721h1v1h-1zM347 720h1v1h-1zM348 719h1v1h-1zM349 718h1v1h-1zM350 717h1v1h-1zM351 716h1v1h-1zM352 715h1v1h-1zM353 714h17v1h-17zM370 713h2v1h-2zM372 712h1v1h-1zM373 711h2v1h-2zM375 710h1v1h-1zM376 709h2v1h-2zM378 708h4v1h-4zM382 707h4v1h-4zM386 706h2v1h-2zM388 705h2v1h-2zM390 704h3v1h-3zM393 703h2v1h-2zM395 702h2v1h-2zM397 701h3v1h-3zM400 700h7v1h-7zM407 701h8v1h-8zM415 702h3v1h-3zM418 701h2v1h-2zM420 700h2v1h-2zM422 699h2v1h-2zM424 698h2v1h-2zM426 699h1v1h-1zM427 700h1v1h-1zM428 701h1v1h-1zM429 702h1v1h-1zM430 703h1v1h-1zM431 704h1v1h-1zM432 705h1v1h-1zM433 706h5v1h-5zM438 705h13v1h-13zM451 704h4v1h-4zM455 703h4v1h-4zM459 702h4v1h-4zM463 701h8v1h-8zM471 702h3v1h-3zM474 701h2v1h-2zM476 700h3v1h-3zM479 699h2v1h-2zM481 698h1v1h-1zM482 699h1v1h-1zM483 700h1v2h-1zM484 702h1v1h-1zM485 703h1v1h-1zM486 704h1v1h-1zM487 705h1v1h-1zM488 706h1v1h-1zM489 707h4v1h-4zM493 706h6v1h-6zM499 707h2v1h-2zM501 708h2v1h-2zM503 709h1v1h-1zM504 710h2v1h-2zM506 711h2v1h-2zM508 712h1v1h-1zM509 713h2v1h-2zM511 714h2v1h-2zM513 715h1v1h-1zM514 714h1v1h-1zM515 713h1v1h-1zM516 712h1v1h-1zM517 711h1v1h-1zM518 709h1v2h-1zM519 708h1v1h-1zM520 707h1v1h-1zM521 706h2v1h-2zM523 705h2v1h-2zM525 704h2v1h-2zM527 703h4v1h-4zM531 704h1v1h-1zM532 705h1v1h-1zM533 706h2v1h-2zM535 707h1v1h-1zM536 708h1v1h-1zM537 709h1v1h-1zM538 708h2v1h-2zM540 707h2v1h-2zM542 706h2v1h-2zM544 705h13v1h-13zM557 706h6v1h-6zM563 707h2v1h-2zM565 708h3v1h-3zM568 709h3v1h-3zM571 710h2v1h-2zM573 711h2v1h-2zM575 712h2v1h-2zM577 713h1v1h-1zM578 712h2v1h-2zM580 711h2v1h-2zM582 710h2v1h-2zM584 709h3v1h-3zM587 708h3v1h-3zM590 707h2v1h-2zM592 706h6v1h-6zM598 705h23v1h-23zM621 706h13v1h-13zM634 707h1v2h-1zM635 709h1v1h-1zM636 710h1v2h-1zM637 712h1v1h-1zM638 713h1v1h-1zM639 714h1v2h-1zM640 716h1v1h-1zM641 717h1v1h-1zM642 718h2v1h-2zM644 719h2v1h-2zM646 720h2v1h-2zM648 721h1v1h-1zM649 722h2v1h-2zM651 723h2v1h-2zM653 724h2v1h-2zM655 725h2v1h-2zM657 726h3v1h-3zM660 725h6v1h-6zM666 724h4v1h-4zM670 723h4v1h-4zM674 722h1v1h-1zM675 721h2v1h-2zM677 720h2v1h-2zM679 719h2v1h-2zM681 718h2v1h-2zM683 717h1v1h-1zM684 716h2v1h-2zM686 715h1v1h-1zM687 714h2v1h-2zM689 713h4v1h-4zM693 712h11v1h-11zM704 713h5v1h-5zM709 714h4v1h-4zM713 715h1v1h-1zM714 714h1v1h-1zM715 713h1v1h-1zM716 712h1v1h-1zM717 711h1v1h-1zM718 710h2v1h-2zM720 709h1v1h-1zM721 708h1v1h-1zM722 707h3v1h-3zM725 706h3v1h-3zM728 705h9v1h-9zM737 705h1v2h-1zM738 707h1v1h-1zM739 708h1v2h-1zM740 710h1v1h-1zM741 711h1v2h-1zM742 713h1v2h-1zM743 715h1v1h-1zM744 716h1v2h-1zM745 718h1v1h-1zM746 717h1v1h-1zM747 716h1v1h-1zM748 715h1v1h-1zM749 714h1v1h-1zM750 713h1v1h-1zM751 712h1v1h-1zM752 711h1v1h-1zM753 710h1v1h-1zM754 711h1v1h-1zM755 712h1v1h-1zM756 713h1v1h-1zM757 714h1v1h-1zM758 715h1v2h-1zM759 717h1v1h-1zM760 718h1v1h-1zM761 719h1v1h-1zM762 718h2v1h-2zM764 717h1v1h-1zM765 716h2v1h-2zM767 715h2v1h-2zM769 714h1v1h-1zM770 715h1v2h-1zM771 717h1v1h-1zM772 718h1v1h-1zM773 719h1v1h-1zM774 720h1v2h-1zM775 722h1v1h-1zM776 723h1v1h-1zM777 724h1v1h-1zM778 725h1v1h-1zM779 726h2v1h-2zM781 727h1v1h-1zM782 728h2v1h-2zM784 729h1v1h-1zM785 730h2v1h-2zM787 729h4v1h-4zM791 728h4v1h-4zM795 729h2v1h-2zM797 730h2v1h-2zM799 731h2v1h-2zM801 732h1v1h-1zM802 731h2v1h-2zM804 730h1v1h-1zM805 729h2v1h-2zM807 728h2v1h-2zM809 727h1v1h-1zM810 728h1v1h-1zM811 729h1v1h-1zM812 730h1v1h-1zM813 731h1v1h-1zM814 732h2v1h-2zM816 733h1v1h-1zM817 734h2v1h-2zM819 735h5v1h-5zM824 736h2v1h-2zM826 735h3v1h-3zM829 734h3v1h-3zM832 733h2v1h-2zM834 734h1v2h-1zM835 736h1v1h-1zM836 737h1v2h-1zM837 739h1v1h-1zM838 740h1v1h-1zM839 741h1v2h-1zM840 743h1v1h-1zM841 744h4v1h-4zM845 745h7v1h-7zM852 746h4v1h-4zM856 747h2v1h-2zM858 748h2v1h-2zM860 749h2v1h-2zM862 750h2v1h-2zM864 751h6v1h-6zM870 752h15v1h-15zM885 753h5v1h-5zM890 752h1v1h-1zM891 751h1v1h-1zM892 750h1v1h-1zM893 749h2v1h-2zM895 748h1v1h-1zM896 747h1v1h-1zM897 746h1v1h-1zM898 745h3v1h-3zM901 744h3v1h-3zM904 743h3v1h-3zM907 744h1v1h-1zM908 745h2v1h-2zM910 746h2v1h-2zM912 747h1v1h-1zM913 748h3v1h-3zM916 749h2v1h-2zM918 750h2v1h-2zM920 751h2v1h-2zM922 752h1v1h-1zM923 753h2v1h-2zM925 754h1v1h-1zM926 755h2v1h-2zM928 756h1v1h-1zM929 757h1v1h-1zM930 756h2v1h-2zM932 755h2v1h-2zM934 754h3v1h-3zM937 753h20v1h-20zM957 754h5v1h-5zM962 752h1v2h-1zM963 750h1v2h-1zM964 748h1v2h-1zM965 747h1v1h-1zM966 745h1v2h-1zM967 743h1v2h-1zM968 741h1v2h-1zM969 739h1v2h-1zM970 740h1v1h-1zM971 741h2v1h-2zM973 742h1v1h-1zM974 743h1v1h-1zM975 744h1v1h-1zM976 745h1v1h-1zM977 746h5v1h-5zM982 747h5v1h-5zM987 748h2v1h-2zM989 749h3v1h-3zM992 750h2v1h-2zM994 749h2v1h-2zM996 748h1v1h-1zM997 747h1v1h-1zM998 746h2v1h-2zM1000 745h1v1h-1zM1001 744h4v1h-4zM1005 745h6v1h-6zM1011 746h2v1h-2zM1013 747h3v1h-3zM1016 748h3v1h-3zM1019 749h4v1h-4zM1023 750h3v1h-3zM1026 751h2v1h-2zM1028 752h3v1h-3zM1031 753h2v1h-2zM1033 754h5v1h-5zM1038 755h8v1h-8zM1046 756h16v1h-16zM1062 757h4v1h-4zM1066 756h2v1h-2zM1068 755h1v1h-1zM1069 754h2v1h-2zM1071 753h2v1h-2zM1073 752h1v1h-1zM1074 750h1v2h-1zM1075 748h1v2h-1zM1076 747h1v1h-1zM1077 745h1v2h-1zM1078 743h1v2h-1zM1079 741h1v2h-1zM1080 739h1v2h-1zM1081 738h2v1h-2zM1083 739h2v1h-2zM1085 740h2v1h-2zM1087 741h2v1h-2zM1089 742h1v1h-1zM1090 740h1v2h-1zM1091 739h1v1h-1zM1092 738h1v1h-1zM1093 736h1v2h-1zM1094 735h1v1h-1zM1095 734h1v1h-1zM1096 732h1v2h-1zM1097 731h1v1h-1zM1098 730h2v1h-2zM1100 729h2v1h-2zM1102 728h1v1h-1zM1103 727h2v1h-2zM1105 726h1v1h-1zM1106 727h1v1h-1zM1107 728h1v2h-1zM1108 730h1v1h-1zM1109 731h1v1h-1zM1110 732h1v1h-1zM1111 733h1v2h-1zM1112 735h1v1h-1zM1113 736h1v1h-1zM1114 735h1v1h-1zM1115 733h1v2h-1zM1116 732h1v1h-1zM1117 731h1v1h-1zM1118 729h1v2h-1zM1119 728h1v1h-1zM1120 726h1v2h-1zM1121 725h4v1h-4zM1125 724h5v1h-5zM1130 723h1v1h-1zM1131 722h1v1h-1zM1132 720h1v2h-1zM1133 719h1v1h-1zM1134 718h1v1h-1zM1135 717h1v1h-1zM1136 716h1v1h-1zM1137 715h12v1h-12zM1149 716h7v1h-7zM1156 715h6v1h-6zM1162 714h4v1h-4zM1166 713h4v1h-4zM1170 714h1v1h-1zM1171 715h1v1h-1zM1172 716h1v2h-1zM1173 718h1v1h-1zM1174 719h1v1h-1zM1175 720h1v1h-1zM1176 721h1v2h-1zM1177 723h4v1h-4zM1181 724h4v1h-4zM1185 725h1v1h-1zM1186 724h2v1h-2zM1188 723h1v1h-1zM1189 722h2v1h-2zM1191 721h2v1h-2zM1193 720h3v1h-3zM1196 719h6v1h-6zM1202 718h5v1h-5zM1207 717h5v1h-5zM1212 718h5v1h-5zM1217 719h1v1h-1zM1218 718h2v1h-2zM1220 717h1v1h-1zM1221 716h2v1h-2zM1223 715h2v1h-2zM1225 714h2v1h-2zM1227 713h4v1h-4zM1231 712h4v1h-4zM1235 713h3v1h-3zM1238 714h3v1h-3zM1241 715h9v1h-9zM1250 716h3v1h-3zM1253 717h2v1h-2zM1255 718h2v1h-2zM1257 719h9v1h-9zM1266 720h2v1h-2zM1268 721h2v1h-2zM1270 722h1v1h-1zM1271 723h2v1h-2zM1273 724h4v1h-4zM1277 723h5v1h-5zM1282 724h2v1h-2zM1284 725h1v1h-1zM1285 726h1v1h-1zM1286 727h2v1h-2zM1288 728h1v1h-1zM1289 729h3v1h-3zM1292 728h7v1h-7zM1299 729h1v1h-1zM1300 730h2v1h-2zM1302 731h1v1h-1zM1303 732h2v1h-2zM1305 733h1v1h-1zM1306 732h2v1h-2zM1308 731h2v1h-2zM1310 730h2v1h-2zM1312 729h2v1h-2zM1314 730h2v1h-2zM1316 731h1v1h-1zM1317 732h1v1h-1zM1318 733h2v1h-2zM1320 734h1v1h-1zM1321 735h1v1h-1zM1322 734h1v1h-1zM1323 733h1v1h-1zM1324 732h1v1h-1zM1325 730h1v2h-1zM1326 729h1v1h-1zM1327 728h1v1h-1zM1328 727h1v1h-1zM1329 726h1v1h-1zM1330 727h1v2h-1zM1331 729h1v1h-1zM1332 730h1v1h-1zM1333 731h1v2h-1zM1334 733h1v1h-1zM1335 734h1v1h-1zM1336 735h1v2h-1zM1337 737h5v1h-5zM1342 738h23v1h-23zM1365 737h5v1h-5zM1370 738h2v1h-2zM1372 739h1v1h-1zM1373 740h1v1h-1zM1374 741h1v1h-1zM1375 742h2v1h-2zM1377 743h1v1h-1zM1378 742h1v1h-1zM1379 741h1v1h-1zM1380 740h1v1h-1zM1381 739h1v1h-1zM1382 738h1v1h-1zM1383 736h1v2h-1zM1384 735h1v1h-1zM1385 734h2v1h-2zM1387 733h3v1h-3zM1390 732h2v1h-2zM1392 731h10v1h-10zM1402 730h2v1h-2zM1404 729h1v1h-1zM1405 728h2v1h-2zM1407 727h2v1h-2zM1409 726h1v1h-1zM1410 727h1v1h-1zM1411 728h1v1h-1zM1412 729h1v1h-1zM1413 730h1v2h-1zM1414 732h1v1h-1zM1415 733h1v1h-1zM1416 734h1v1h-1zM1417 735h1v1h-1zM1418 733h1v2h-1zM1419 731h1v2h-1zM1420 730h1v1h-1zM1421 728h1v2h-1zM1422 726h1v2h-1zM1423 724h1v2h-1zM1424 723h1v1h-1zM1425 721h1v2h-1zM1426 721h1v1h-1zM1427 722h2v1h-2zM1429 723h2v1h-2zM1431 724h2v1h-2zM1433 725h6v1h-6zM1439 726h13v1h-13zM1452 727h5v1h-5zM1457 728h6v1h-6zM1463 729h4v1h-4zM1467 730h3v1h-3zM1470 731h3v1h-3zM1473 732h9v1h-9zM1482 733h1v1h-1zM1483 734h1v1h-1zM1484 735h1v1h-1zM1485 736h1v1h-1zM1486 737h1v1h-1zM1487 738h1v1h-1zM1488 739h1v1h-1zM1489 740h2v1h-2zM1491 739h3v1h-3zM1494 738h7v1h-7zM1501 739h3v1h-3zM1504 740h3v1h-3zM1507 741h2v1h-2zM1509 742h2v1h-2zM1511 743h1v1h-1zM1512 744h3v1h-3zM1515 745h3v1h-3zM1518 746h3v1h-3zM1521 747h5v1h-5zM1526 748h5v1h-5zM1531 749h5v1h-5zM1536 750h1v1h-1zM1537 749h1v2h-1zM1538 746h1v3h-1zM1539 744h1v2h-1zM1540 741h1v3h-1zM1541 738h1v3h-1zM1542 736h1v2h-1zM1543 733h1v3h-1zM1544 731h1v2h-1zM1545 729h1v2h-1zM1546 728h4v1h-4zM1550 727h5v1h-5zM1555 728h1v1h-1zM1556 729h2v1h-2zM1558 730h1v1h-1zM1559 731h2v1h-2zM1561 732h1v1h-1zM1562 730h1v2h-1zM1563 728h1v2h-1zM1564 727h1v1h-1zM1565 725h1v2h-1zM1566 723h1v2h-1zM1567 721h1v2h-1zM1568 720h1v1h-1zM1569 718h1v2h-1zM1570 718h8v1h-8zM1578 719h1v1h-1zM1579 720h1v1h-1zM1580 721h1v1h-1zM1581 722h1v1h-1zM1582 723h1v1h-1zM1583 724h1v1h-1zM1584 725h1v1h-1zM1585 726h12v1h-12zM1597 727h5v1h-5zM1602 728h1v1h-1zM1603 729h1v1h-1zM1604 730h1v1h-1zM1605 731h1v1h-1zM1606 732h1v1h-1zM1607 733h1v1h-1zM1608 734h1v1h-1zM1609 735h1v1h-1zM1610 734h2v1h-2zM1612 733h2v1h-2zM1614 732h2v1h-2zM1616 731h2v1h-2zM1618 730h2v1h-2zM1620 729h2v1h-2zM1622 728h2v1h-2zM1624 727h4v1h-4zM1628 726h6v1h-6zM1634 727h2v1h-2zM1636 728h2v1h-2zM1638 729h1v1h-1zM1639 730h2v1h-2zM1641 731h1v1h-1zM1642 730h1v1h-1zM1643 729h1v1h-1zM1644 728h1v1h-1zM1645 727h1v1h-1zM1646 726h2v1h-2zM1648 725h1v1h-1zM1649 724h3v1h-3zM1652 723h7v1h-7zM1659 724h2v1h-2zM1661 725h2v1h-2zM1663 726h2v1h-2zM1665 727h1v1h-1z" fill="#1e90ff"/>
<path d="M8 35h1677v1h-1677zM8 35h1v504h-1zM8 538h1677v1h-1677zM8 540h1677v1h-1677zM8 540h1v125h-1zM8 664h1677v1h-1677zM8 666h1677v1h-1677zM8 666h1v106h-1zM8 771h1677v1h-1677zM1684 35h1v504h-1zM1684 540h1v125h-1zM1684 666h1v106h-1zM1685 40h2v1h-2zM1685 73h2v1h-2zM1685 106h2v1h-2zM1685 139h2v1h-2zM1685 172h2v1h-2zM1685 205h2v1h-2zM1685 238h2v1h-2zM1685 271h2v1h-2zM1685 304h2v1h-2zM1685 337h2v1h-2zM1685 370h2v1h-2zM1685 436h2v1h-2zM1685 469h2v1h-2zM1685 502h2v1h-2zM1685 403h2v1h-2zM1685 535h1v1h-1zM1685 542h1v1h-1zM1685 564h1v1h-1zM1685 663h1v1h-1zM1685 668h1v1h-1zM1685 770h1v1h-1zM9 772h1v3h-1zM73 772h1v3h-1zM137 772h1v3h-1zM201 772h1v3h-1zM265 772h1v3h-1zM329 772h1v3h-1zM393 772h1v3h-1zM457 772h1v3h-1zM521 772h1v3h-1zM585 772h1v3h-1zM649 772h1v3h-1zM713 772h1v3h-1zM777 772h1v3h-1zM841 772h1v3h-1zM905 772h1v3h-1zM969 772h1v3h-1zM1033 772h1v3h-1zM1097 772h1v3h-1zM1161 772h1v3h-1zM1225 772h1v3h-1zM1289 772h1v3h-1zM1353 772h1v3h-1zM1417 772h1v3h-1zM1481 772h1v3h-1zM1545 772h1v3h-1zM1609 772h1v3h-1z" fill="#000"/>
<path d="M1684 357h2v2h-2zM1684 404h2v2h-2zM1684 453h2v2h-2z" fill="#ff0000"/><path d="M1684 492h2v2h-2z" fill="#00f97c"/><path d="M1684 532h2v2h-2z" fill="#4169e1"/>
<path d="M1686 498h46v3h-46z" fill="#000"/>
</svg>
<svg class="a" style="left:0;top:0" width="1737" height="790"><g fill="#ff2410" font-family="&quot;Liberation Sans&quot;, &quot;Noto Sans CJK SC&quot;, sans-serif"><text x="436.8" y="275.6" font-size="32.4">多空转折点</text><text x="598" y="272.8" font-size="34">2435</text></g></svg>
<div class="t" style="left:23.7px;top:39px;letter-spacing:-0.226px">SP500-,H4</div>
<div class="t" style="left:74.3px;top:39px;letter-spacing:-0.297px">2542.000</div>
<div class="t" style="left:115.8px;top:39px;letter-spacing:-0.309px">2542.000</div>
<div class="t" style="left:156.7px;top:39px;letter-spacing:-0.309px">2426.500</div>
<div class="t" style="left:198.0px;top:39px;letter-spacing:-0.297px">2430.000</div>
<svg class="a" style="left:12px;top:41px" width="8" height="5"><path d="M0 0h7l-3.5 4z" fill="#000"/></svg>
<div class="t" style="left:13.1px;top:545px;letter-spacing:-0.114px">MACD(12,26,9)</div>
<div class="t" style="left:81.5px;top:545px;letter-spacing:-0.248px">-66.9184</div>
<div class="t" style="left:120.6px;top:545px;letter-spacing:-0.273px">-72.4362</div>
<div class="t" style="left:13.0px;top:671px;letter-spacing:-0.152px">RSI(14)</div>
<div class="t" style="left:47.5px;top:671px;letter-spacing:-0.232px">40.9805</div>
<div class="t" style="left:1690px;top:36px">3440.220</div>
<div class="t" style="left:1690px;top:69px">3367.290</div>
<div class="t" style="left:1690px;top:102px">3294.360</div>
<div class="t" style="left:1690px;top:135px">3221.430</div>
<div class="t" style="left:1690px;top:168px">3148.500</div>
<div class="t" style="left:1690px;top:201px">3073.360</div>
<div class="t" style="left:1690px;top:234px">3000.430</div>
<div class="t" style="left:1690px;top:267px">2927.500</div>
<div class="t" style="left:1690px;top:300px">2854.570</div>
<div class="t" style="left:1690px;top:333px">2781.640</div>
<div class="t" style="left:1690px;top:366px">2706.500</div>
<div class="t" style="left:1690px;top:432px">2560.640</div>
<div class="t" style="left:1690px;top:465px">2487.710</div>
<div class="t" style="left:1690px;top:498px">2414.780</div>
<div class="t" style="left:1687.6px;top:543px">28.8016</div>
<div class="t" style="left:1687.6px;top:560px">0.00</div>
<div class="t" style="left:1687.6px;top:653px">-124.4011</div>
<div class="t" style="left:1687.6px;top:669px">100</div>
<div class="t" style="left:1687.6px;top:694px">70</div>
<div class="t" style="left:1687.6px;top:736px">30</div>
<div class="t" style="left:1687.6px;top:760px">0</div>
<div class="a" style="left:1686px;top:538px;width:46px;height:1px;overflow:hidden"><div class="t" style="left:4px;top:-7px">2341.850</div></div>
<div class="t" style="left:8.3px;top:776px">30 Jan 2020</div>
<div class="t" style="left:72.3px;top:776px">31 Jan 12:00</div>
<div class="t" style="left:136.3px;top:776px">3 Feb 16:00</div>
<div class="t" style="left:200.3px;top:776px">5 Feb 00:00</div>
<div class="t" style="left:264.3px;top:776px">6 Feb 08:00</div>
<div class="t" style="left:328.3px;top:776px">7 Feb 16:00</div>
<div class="t" style="left:392.3px;top:776px">10 Feb 20:00</div>
<div class="t" style="left:456.3px;top:776px">12 Feb 04:00</div>
<div class="t" style="left:520.3px;top:776px">13 Feb 12:00</div>
<div class="t" style="left:584.3px;top:776px">14 Feb 20:00</div>
<div class="t" style="left:648.3px;top:776px">18 Feb 00:00</div>
<div class="t" style="left:712.3px;top:776px">19 Feb 08:00</div>
<div class="t" style="left:776.3px;top:776px">20 Feb 16:00</div>
<div class="t" style="left:840.3px;top:776px">23 Feb 23:00</div>
<div class="t" style="left:904.3px;top:776px">25 Feb 04:00</div>
<div class="t" style="left:968.3px;top:776px">26 Feb 12:00</div>
<div class="t" style="left:1032.3px;top:776px">27 Feb 20:00</div>
<div class="t" style="left:1096.3px;top:776px">2 Mar 00:00</div>
<div class="t" style="left:1160.3px;top:776px">3 Mar 08:00</div>
<div class="t" style="left:1224.3px;top:776px">4 Mar 16:00</div>
<div class="t" style="left:1288.3px;top:776px">6 Mar 00:00</div>
<div class="t" style="left:1352.3px;top:776px">9 Mar 04:00</div>
<div class="t" style="left:1416.3px;top:776px">10 Mar 12:00</div>
<div class="t" style="left:1480.3px;top:776px">11 Mar 20:00</div>
<div class="t" style="left:1544.3px;top:776px">13 Mar 04:00</div>
<div class="t" style="left:1608.3px;top:776px">16 Mar 16:00</div>
<div class="pl" style="top:352px;background:#ff0000"><span>2735.000</span></div>
<div class="pl" style="top:399px;background:#ff0000"><span>2630.000</span></div>
<div class="pl" style="top:448px;background:#ff0000"><span>2520.000</span></div>
<div class="pl" style="top:487px;background:#00f97c"><span>2435.000</span></div>
<div class="pl" style="top:527px;background:#4169e1"><span>2345.000</span></div>
</body></html>
